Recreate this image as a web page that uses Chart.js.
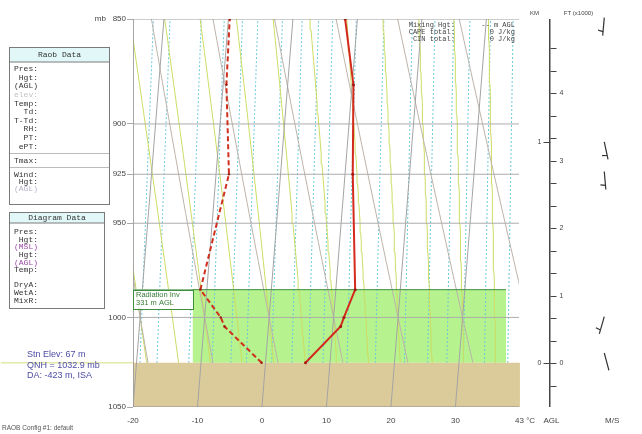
<!DOCTYPE html>
<html>
<head>
<meta charset="utf-8">
<title>Skew-T</title>
<script src="https://cdn.jsdelivr.net/npm/chart.js@4.4.1/dist/chart.umd.min.js"></script>
<style>
  body { margin: 0; background: #fff; }
  canvas { display: block; }
</style>
</head>
<body>
<canvas id="skewt" width="642" height="434"></canvas>
<script>
// sounding (mb, deg C)
let presLevels = [1025, 1005, 1000, 985, 925, 881, 850];
let tempC      = [6.2, 11.2, 11.6, 13.0, 11.2, 10.2, 8.1];
let dewC       = [-0.6, -6.8, -7.5, -11.0, -8.0, -9.5, -9.8];

// winds in the right panel
let windFt  = [5120, 3280, 2840, 690, 150];
let windDir = [185, 168, 175, 196, 165];
let windKt  = [5, 5, 5, 5, 2];

// axes
let pTicks      = [850, 900, 925, 950, 1000, 1050];
let isobars     = [900, 925, 950, 1000];
let tTickVals   = [-20, -10, 0, 10, 20, 30, 40.8, 44.9, 54.3];
let tTickLabels = ['-20', '-10', '0', '10', '20', '30', '43 °C', 'AGL', 'M/S'];
let ftTicks  = [-333, 0, 333, 667, 1000, 1333, 1667, 2000, 2333, 2667, 3000, 3333, 3667, 4000, 4333, 4667];
let ftLabels = [0, 1, 2, 3, 4];
let kmLabels = [0, 1];

// background lines
let isotherms = [-20, -10, 0, 10, 20, 30];
let thetaC    = [-30, -20, -10, 0, 10, 20, 30, 40, 50];
let thetaW    = [-20, -15, -10, -5, 0, 5, 10, 15, 20, 25, 30, 35, 40];
let mixRatios = [0.8, 1, 1.5, 2, 2.5, 3, 4, 5, 6, 7, 9, 12, 16, 20, 24, 28, 34, 42];

// surface / inversion
let surfP = 1025;
let invTopP = 985;
let invLabel = ['Radiation Inv', '331 m AGL'];

// text panels
let raobRows = ['Pres:', 'Hgt:', '(AGL)', 'elev:', 'Temp:', 'Td:', 'T-Td:', 'RH:', 'PT:', 'ePT:'];
let windRows = ['Wind:', 'Hgt:', '(AGL)'];
let diagRows = ['Pres:', 'Hgt:', '(MSL)', 'Hgt:', '(AGL)', 'Temp:', '', 'DryA:', 'WetA:', 'MixR:'];
let stnInfo  = ['Stn Elev: 67 m', 'QNH = 1032.9 mb', 'DA: -423 m, ISA'];
let statRows = [['Mixing Hgt:', '-- m AGL'], ['CAPE total:', '0 J/kg'], ['CIN total:', '0 J/kg']];

const SKEW = 22.7;          // lean of the isotherms per unit ln p
const X_MAX = 58.31;        // right panel lives past the 40 deg edge
const PLOT_RIGHT = 40;
const HGT_AXIS = 44.62;
const BARB_X = 53.08;
const FT_MIN = -650, FT_MAX = 5100;
const MONO = '"Liberation Mono", "DejaVu Sans Mono", monospace';
const SANS = '"Liberation Sans", Arial, sans-serif';

function skewX(t, p) { return t + SKEW * Math.log(1050 / p); }

let curveP = [];
for (let p = 1050; p >= 850; p -= 5) curveP.push(p);

function satMix(t, p) {
    let es = 6.112 * Math.exp(17.67 * t / (t + 243.5));
    return 0.622 * es / (p - es);
}
function moistLapse(t, p) {
    let T = t + 273.15, rs = satMix(t, p);
    let num = 287.04 * T + 2.501e6 * rs;
    let den = 1005.7 + 2.501e6 * 2.501e6 * rs * 0.622 / (287.04 * T * T);
    return num / den / p;
}
function moistLine(tw) {
    let res = {1000: tw}, t = tw;
    for (let p = 1000; p > 850; p -= 5) {
        let k1 = moistLapse(t, p), k2 = moistLapse(t - k1 * 5, p - 5);
        t -= 5 * (k1 + k2) / 2;
        res[p - 5] = t;
    }
    t = tw;
    for (let p = 1000; p < 1050; p += 5) {
        let k1 = moistLapse(t, p), k2 = moistLapse(t + k1 * 5, p + 5);
        t += 5 * (k1 + k2) / 2;
        res[p + 5] = t;
    }
    return curveP.map(p => ({x: skewX(res[p], p), y: p}));
}
function dryLine(th) {
    return curveP.map(p => ({x: skewX((th + 273.15) * Math.pow(p / 1000, 0.2857) - 273.15, p), y: p}));
}
function mixLine(w) {
    return curveP.map(p => {
        let l = Math.log(w * p / (622 + w) / 6.112);
        return {x: skewX(243.5 * l / (17.67 - l), p), y: p};
    });
}

const CLIP = {left: 0, top: 0, right: -119, bottom: 0};
function lineSet(pts, color, width, order, dash) {
    return {
        data: pts, showLine: true, borderColor: color, borderWidth: width,
        borderDash: dash || [], pointRadius: 0, fill: false, order: order, clip: CLIP
    };
}

let datasets = [];

// inversion layer shading
datasets.push({
    data: [{x: -10.77, y: invTopP}, {x: 37.85, y: invTopP}], showLine: true,
    borderWidth: 0, borderColor: 'rgba(0,0,0,0)', backgroundColor: '#b6f28e',
    pointRadius: 0, fill: {value: surfP}, order: 100
});
mixRatios.forEach(w => datasets.push(lineSet(mixLine(w), '#6cc8dc', 1, 90, [2, 2])));
thetaW.forEach(t => datasets.push(lineSet(moistLine(t), '#cddc62', 1, 85)));
thetaC.forEach(t => datasets.push(lineSet(dryLine(t), '#bdb3aa', 1, 80)));

// ground
datasets.push({
    data: [{x: -20, y: surfP}, {x: PLOT_RIGHT, y: surfP}], showLine: true,
    borderWidth: 0, borderColor: 'rgba(0,0,0,0)', backgroundColor: '#dccb9a',
    pointRadius: 0, fill: {value: 1050}, order: 70
});
datasets.push(Object.assign(lineSet([{x: -40.5, y: surfP}, {x: -20, y: surfP}], '#e2e9aa', 1.5, 65),
    {clip: {left: 140, top: 0, right: 0, bottom: 0}}));

isotherms.forEach(t => datasets.push(lineSet([{x: skewX(t, 1050), y: 1050}, {x: skewX(t, 850), y: 850}], '#a4a4a4', 1, 60)));
isobars.forEach(p => datasets.push(lineSet([{x: -20, y: p}, {x: PLOT_RIGHT, y: p}], '#acacac', 1, 55)));

// frame
datasets.push(lineSet([{x: -20, y: 850}, {x: X_MAX, y: 850}], '#9c9c9c', 1, 50));
datasets.push(lineSet([{x: -20, y: 1050}, {x: X_MAX, y: 1050}], '#8c8c8c', 1, 50));
datasets.push(lineSet([{x: -20, y: 850}, {x: -20, y: 1050}], '#9c9c9c', 1, 50));
datasets.push(lineSet([{x: PLOT_RIGHT, y: 850}, {x: PLOT_RIGHT, y: 1050}], '#b4b4b4', 1, 50));
datasets.push(Object.assign(lineSet([{x: HGT_AXIS, y: 850}, {x: HGT_AXIS, y: 1050}], '#444', 1, 50), {clip: 0}));

// inversion top
datasets.push(lineSet([{x: -20, y: invTopP}, {x: 37.85, y: invTopP}], '#3f8f3f', 1, 45));

// dewpoint and temperature
datasets.push({
    data: presLevels.map((p, i) => ({x: skewX(dewC[i], p), y: p})), showLine: true,
    borderColor: '#d0301e', borderWidth: 2, borderDash: [5, 3], pointRadius: 1.2,
    pointBackgroundColor: '#9a1a10', pointBorderWidth: 0, order: 20, clip: CLIP
});
datasets.push({
    data: presLevels.map((p, i) => ({x: skewX(tempC[i], p), y: p})), showLine: true,
    borderColor: '#d42a1e', borderWidth: 2, pointRadius: 1.5,
    pointBackgroundColor: '#a81810', pointBorderWidth: 0, order: 10, clip: CLIP
});

function seg(ctx, x1, y1, x2, y2) {
    ctx.beginPath(); ctx.moveTo(x1, y1); ctx.lineTo(x2, y2); ctx.stroke();
}

function drawBarb(ctx, x0, y0, dir, kt) {
    let L = 18, a = dir * Math.PI / 180;
    let ux = Math.sin(a), uy = -Math.cos(a);
    let px = -uy, py = ux;
    seg(ctx, x0, y0, x0 + ux * L, y0 + uy * L);
    let pos = L, left = kt;
    while (left >= 10) {
        let bx = x0 + ux * pos, by = y0 + uy * pos;
        seg(ctx, bx, by, bx + px * 8 - ux * 2, by + py * 8 - uy * 2);
        pos -= 3; left -= 10;
    }
    if (left >= 5) {
        let d = pos === L ? L - 4 : pos;
        let bx = x0 + ux * d, by = y0 + uy * d;
        seg(ctx, bx, by, bx + px * 5 - ux * 1, by + py * 5 - uy * 1);
    }
}

function panelBox(ctx, x, y, w, h, headH, title) {
    ctx.fillStyle = '#fff';
    ctx.fillRect(x, y, w, h);
    ctx.fillStyle = '#e2f7f7';
    ctx.fillRect(x, y, w, headH);
    ctx.strokeStyle = '#7a7a7a';
    ctx.lineWidth = 1;
    ctx.strokeRect(x, y, w, h);
    seg(ctx, x, y + headH, x + w, y + headH);
    ctx.fillStyle = '#333';
    ctx.textAlign = 'center';
    ctx.fillText(title, x + w / 2, y + headH / 2 + 0.5);
}

const panelPlugin = {
    id: 'raobPanels',
    afterDraw(chart) {
        let ctx = chart.ctx, xs = chart.scales.x, ys = chart.scales.y, ft = chart.scales.ft;
        ctx.save();
        ctx.textBaseline = 'middle';

        // height axis (right panel)
        let ax = Math.round(xs.getPixelForValue(HGT_AXIS)) + 0.5;
        ctx.strokeStyle = '#444';
        ctx.lineWidth = 1;
        ftTicks.forEach(v => {
            let y = Math.round(ft.getPixelForValue(v)) + 0.5;
            seg(ctx, ax, y, ax + 6, y);
        });
        ctx.fillStyle = '#444';
        ctx.font = '7px ' + SANS;
        ctx.textAlign = 'left';
        ftLabels.forEach(k => ctx.fillText(String(k), ax + 9, ft.getPixelForValue(k * 1000)));
        ctx.textAlign = 'right';
        kmLabels.forEach(k => {
            let y = Math.round(ft.getPixelForValue(k * 3280.84)) + 0.5;
            seg(ctx, ax - 7, y, ax, y);
            ctx.fillText(String(k), ax - 9, y);
        });
        ctx.font = '6px ' + SANS;
        ctx.textAlign = 'center';
        ctx.fillText('KM', ax - 16, 13);
        ctx.fillText('FT (x1000)', ax + 28, 13);

        // wind barbs
        ctx.strokeStyle = '#333';
        ctx.lineWidth = 1.2;
        let bx = xs.getPixelForValue(BARB_X);
        windFt.forEach((h, i) => drawBarb(ctx, bx, ft.getPixelForValue(h), windDir[i], windKt[i]));

        // stats, top right of the diagram
        let right = xs.getPixelForValue(PLOT_RIGHT);
        ctx.font = '7px ' + MONO;
        ctx.fillStyle = '#444';
        statRows.forEach((r, i) => {
            let y = 25 + i * 7;
            ctx.textAlign = 'right';
            ctx.fillText(r[0], right - 65, y);
            ctx.fillText(r[1], right - 5, y);
        });

        // inversion label box
        let l = xs.getPixelForValue(-20), r = xs.getPixelForValue(-10.77);
        let t = ys.getPixelForValue(invTopP), b = ys.getPixelForValue(995.3);
        ctx.fillStyle = 'rgba(255,255,255,0.85)';
        ctx.fillRect(l, t, r - l, b - t);
        ctx.strokeStyle = '#3f8f3f';
        ctx.lineWidth = 1;
        ctx.strokeRect(Math.round(l) + 0.5, Math.round(t) + 0.5, Math.round(r - l), Math.round(b - t));
        ctx.fillStyle = '#3a7d3a';
        ctx.font = '7.5px ' + SANS;
        ctx.textAlign = 'left';
        ctx.fillText(invLabel[0], l + 3, t + 5);
        ctx.fillText(invLabel[1], l + 3, t + 13);

        // Raob Data panel
        ctx.font = '8px ' + MONO;
        panelBox(ctx, 9.5, 47.5, 100, 157, 14.5, 'Raob Data');
        ctx.textAlign = 'right';
        raobRows.forEach((s, i) => {
            ctx.fillStyle = s === 'elev:' ? '#c4c4c4' : '#333';
            ctx.fillText(s, 38, 69 + i * 8.6);
        });
        ctx.strokeStyle = '#bbb';
        seg(ctx, 10, 153.5, 109, 153.5);
        seg(ctx, 10, 167.5, 109, 167.5);
        ctx.fillStyle = '#333';
        ctx.fillText('Tmax:', 38, 160.5);
        windRows.forEach((s, i) => {
            ctx.fillStyle = i === 2 ? '#b8b0c8' : '#333';
            ctx.fillText(s, 38, 175 + i * 7);
        });

        // Diagram Data panel
        panelBox(ctx, 9.5, 212.5, 95, 96, 10.5, 'Diagram Data');
        ctx.textAlign = 'right';
        diagRows.forEach((s, i) => {
            ctx.fillStyle = s.charAt(0) === '(' ? '#9a4aa6' : '#333';
            ctx.fillText(s, 38, 232 + i * 7.6);
        });

        // station info
        ctx.font = '9px ' + SANS;
        ctx.fillStyle = '#4c4ca6';
        ctx.textAlign = 'left';
        stnInfo.forEach((s, i) => ctx.fillText(s, 27, 355 + i * 10.5));

        ctx.font = '6.5px ' + SANS;
        ctx.fillStyle = '#555';
        ctx.fillText('RAOB Config #1: default', 2, 428);
        ctx.restore();
    }
};

new Chart(document.getElementById('skewt'), {
    type: 'scatter',
    data: {datasets: datasets},
    options: {
        responsive: false,
        animation: false,
        layout: {padding: {top: 19, left: 0, right: 0, bottom: 0}},
        plugins: {legend: {display: false}, tooltip: {enabled: false}},
        scales: {
            x: {
                type: 'linear', min: -20, max: X_MAX,
                grid: {display: false, drawTicks: false}, border: {display: false},
                afterBuildTicks: s => { s.ticks = tTickVals.map(v => ({value: v})); },
                afterFit: s => { s.height = 27; },
                ticks: {
                    autoSkip: false, maxRotation: 0, padding: 9, color: '#444',
                    font: {size: 8, family: SANS},
                    callback: (v, i) => tTickLabels[i]
                }
            },
            y: {
                type: 'logarithmic', reverse: true, min: 850, max: 1050,
                border: {display: false},
                grid: {drawOnChartArea: false, tickLength: 6, color: '#aaa'},
                afterBuildTicks: s => { s.ticks = pTicks.map(v => ({value: v})); },
                afterFit: s => { s.width = 133; },
                ticks: {
                    autoSkip: false, padding: 1, color: '#444',
                    font: {size: 8, family: SANS},
                    callback: v => v === 850 ? 'mb   850' : String(v)
                }
            },
            ft: {type: 'linear', axis: 'y', display: false, min: FT_MIN, max: FT_MAX}
        }
    },
    plugins: [panelPlugin]
});
</script>
</body>
</html>
